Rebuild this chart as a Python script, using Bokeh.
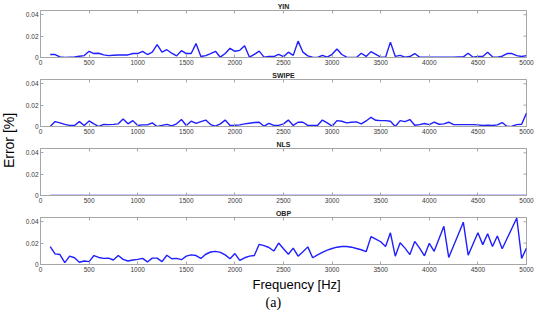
from bokeh.plotting import figure
from bokeh.layouts import row, column
from bokeh.models import Range1d, FixedTicker, LinearAxis, Title, Label
from bokeh.embed import file_html
from bokeh.resources import INLINE
import math

FREQ = [100, 150, 200, 250, 300, 350, 400, 450, 500, 550,
        600, 650, 700, 750, 800, 850, 900, 950, 1000, 1050,
        1100, 1150, 1200, 1250, 1300, 1350, 1400, 1450, 1500, 1550,
        1600, 1650, 1700, 1750, 1800, 1850, 1900, 1950, 2000, 2050,
        2100, 2150, 2200, 2250, 2300, 2350, 2400, 2450, 2500, 2550,
        2600, 2650, 2700, 2750, 2800, 2850, 2900, 2950, 3000, 3050,
        3100, 3150, 3200, 3250, 3300, 3350, 3400, 3450, 3500, 3550,
        3600, 3650, 3700, 3750, 3800, 3850, 3900, 3950, 4000, 4050,
        4100, 4150, 4200, 4250, 4300, 4350, 4400, 4450, 4500, 4550,
        4600, 4650, 4700, 4750, 4800, 4850, 4900, 4950, 5000]

YIN = [0.0028, 0.0028, 0.0006, 0.0000, 0.0003, 0.0006, 0.0012, 0.0018, 0.0058, 0.0037,
       0.0040, 0.0025, 0.0018, 0.0021, 0.0024, 0.0024, 0.0024, 0.0037, 0.0037, 0.0058,
       0.0028, 0.0050, 0.0120, 0.0050, 0.0073, 0.0040, 0.0015, 0.0064, 0.0037, 0.0037,
       0.0130, 0.0009, 0.0018, 0.0037, 0.0058, 0.0003, 0.0037, 0.0086, 0.0058, 0.0067,
       0.0110, 0.0003, 0.0030, 0.0060, 0.0003, 0.0009, 0.0009, 0.0030, 0.0008, 0.0050,
       0.0020, 0.0153, 0.0050, 0.0015, 0.0003, 0.0000, 0.0020, 0.0003, 0.0030, 0.0080,
       0.0028, 0.0003, 0.0000, 0.0000, 0.0040, 0.0010, 0.0055, 0.0030, 0.0003, 0.0003,
       0.0144, 0.0010, 0.0020, 0.0003, 0.0009, 0.0037, 0.0003, 0.0003, 0.0003, 0.0003,
       0.0003, 0.0003, 0.0003, 0.0003, 0.0006, 0.0006, 0.0040, 0.0003, 0.0009, 0.0009,
       0.0050, 0.0006, 0.0003, 0.0012, 0.0037, 0.0037, 0.0018, 0.0009, 0.0018]

SWIPE = [0.0000, 0.0046, 0.0034, 0.0020, 0.0010, 0.0010, 0.0046, 0.0010, 0.0052, 0.0025,
         0.0000, 0.0020, 0.0018, 0.0020, 0.0025, 0.0070, 0.0025, 0.0055, 0.0010, 0.0015,
         0.0015, 0.0034, 0.0000, 0.0010, 0.0020, 0.0006, 0.0025, 0.0065, 0.0010, 0.0050,
         0.0030, 0.0046, 0.0060, 0.0018, 0.0003, 0.0025, 0.0060, 0.0010, 0.0012, 0.0015,
         0.0025, 0.0031, 0.0037, 0.0040, 0.0003, 0.0030, 0.0010, 0.0010, 0.0025, 0.0060,
         0.0010, 0.0040, 0.0040, 0.0010, 0.0010, 0.0010, 0.0060, 0.0034, 0.0003, 0.0055,
         0.0049, 0.0034, 0.0040, 0.0043, 0.0025, 0.0052, 0.0086, 0.0058, 0.0055, 0.0055,
         0.0049, 0.0000, 0.0055, 0.0046, 0.0065, 0.0012, 0.0018, 0.0028, 0.0018, 0.0040,
         0.0021, 0.0025, 0.0040, 0.0018, 0.0018, 0.0018, 0.0018, 0.0018, 0.0015, 0.0010,
         0.0012, 0.0010, 0.0015, 0.0037, 0.0000, 0.0003, 0.0018, 0.0021, 0.0126]

NLS = [0.0] * 99

OBP = [0.0168, 0.0099, 0.0093, 0.0018, 0.0078, 0.0063, 0.0021, 0.0033, 0.0027, 0.0084,
       0.0066, 0.0057, 0.0060, 0.0042, 0.0084, 0.0048, 0.0033, 0.0042, 0.0048, 0.0057,
       0.0024, 0.0060, 0.0060, 0.0027, 0.0087, 0.0054, 0.0057, 0.0045, 0.0078, 0.0090,
       0.0084, 0.0057, 0.0096, 0.0117, 0.0123, 0.0114, 0.0090, 0.0054, 0.0102, 0.0039,
       0.0063, 0.0078, 0.0084, 0.0189, 0.0177, 0.0159, 0.0126, 0.0201, 0.0147, 0.0096,
       0.0153, 0.0078, 0.0120, 0.0165, 0.0063, 0.0090, 0.0114, 0.0135, 0.0150, 0.0162,
       0.0168, 0.0168, 0.0162, 0.0150, 0.0138, 0.0120, 0.0261, 0.0237, 0.0213, 0.0168,
       0.0297, 0.0078, 0.0204, 0.0153, 0.0093, 0.0216, 0.0153, 0.0081, 0.0198, 0.0123,
       0.0240, 0.0357, 0.0066, 0.0176, 0.0286, 0.0396, 0.0087, 0.0192, 0.0297, 0.0186,
       0.0288, 0.0168, 0.0267, 0.0147, 0.0243, 0.0339, 0.0435, 0.0057, 0.0153]

TITLES = ["YIN", "SWIPE", "NLS", "OBP"]
SERIES = [YIN, SWIPE, NLS, OBP]

X_TICKS = [0, 500, 1000, 1500, 2000, 2500, 3000, 3500, 4000, 4500, 5000]
X_TICK_LABELS = ["0", "500", "1000", "1500", "2000", "2500", "3000", "3500", "4000", "4500", "5000"]
Y_TICKS = [0, 0.02, 0.04]
Y_TICK_LABELS = ["0", "0.02", "0.04"]
X_LABEL = "Frequency [Hz]"
Y_LABEL = "Error [%]"
CAPTION = "(a)"

FONT = "Liberation Sans"
AXIS_GRAY = "#a6a6a6"
TICK_TEXT = "#3a3a3a"
LINE_BLUE = "#1e1eff"

LAB_W = 22
PANEL_W = 534 - LAB_W
PANEL_H = 69
LAST_H = 312 - 3 * PANEL_H


def style_axis(ax, ticks, labels, show_labels=True):
    ax.ticker = FixedTicker(ticks=ticks)
    ax.major_label_overrides = {t: (l if show_labels else "") for t, l in zip(ticks, labels)}
    ax.major_tick_in = 3
    ax.major_tick_out = 0
    ax.minor_tick_line_color = None
    ax.axis_line_color = AXIS_GRAY
    ax.major_tick_line_color = AXIS_GRAY
    ax.major_label_text_font = FONT
    ax.major_label_text_color = TICK_TEXT
    ax.major_label_text_font_size = "6.5px" if show_labels else "0px"
    ax.major_label_standoff = 2 if show_labels else 0


def make_panel(title, values, height, last):
    p = figure(width=PANEL_W, height=height,
               x_range=Range1d(0, 5000), y_range=Range1d(0, 0.044),
               output_backend="svg", toolbar_location=None,
               min_border_left=0, min_border_right=8,
               min_border_top=9, min_border_bottom=48 if last else 12)
    p.title.text = title
    p.title.align = "center"
    p.title.text_font = FONT
    p.title.text_font_size = "7px"
    p.title.text_font_style = "bold"
    p.title.text_color = "#222222"
    p.title.standoff = 1
    p.xgrid.visible = False
    p.ygrid.visible = False
    p.outline_line_color = AXIS_GRAY
    p.background_fill_color = "white"
    p.border_fill_color = "white"

    style_axis(p.xaxis[0], X_TICKS, X_TICK_LABELS)
    style_axis(p.yaxis[0], Y_TICKS, Y_TICK_LABELS)

    top = LinearAxis()
    style_axis(top, X_TICKS, X_TICK_LABELS, show_labels=False)
    top.axis_line_color = None
    p.add_layout(top, "above")

    # inward tick marks on the right edge of the box, at the y tick values
    p.ray(x=[p.x_range.end] * len(Y_TICKS), y=Y_TICKS, length=3, length_units="screen",
          angle=math.pi, line_color=AXIS_GRAY, line_width=1)

    p.line(FREQ, values, line_color=LINE_BLUE, line_width=1.4)

    if last:
        p.add_layout(Title(text=X_LABEL, align="left", offset=212,
                           text_font=FONT, text_font_size="13px",
                           text_font_style="normal", text_color="black",
                           standoff=0), "below")
        p.add_layout(Title(text=CAPTION, align="left", offset=225,
                           text_font="Liberation Serif", text_font_size="14px",
                           text_font_style="normal", text_color="black",
                           standoff=3), "below")
    return p


panels = []
for i, (t, s) in enumerate(zip(TITLES, SERIES)):
    last = i == len(TITLES) - 1
    panels.append(make_panel(t, s, LAST_H if last else PANEL_H, last))

lab = figure(width=LAB_W, height=312, x_range=Range1d(0, LAB_W), y_range=Range1d(312, 0),
             output_backend="svg", toolbar_location=None,
             min_border=0, min_border_left=0, min_border_right=0,
             min_border_top=0, min_border_bottom=0)
lab.axis.visible = False
lab.grid.visible = False
lab.outline_line_color = None
lab.add_layout(Label(x=8, y=140, text=Y_LABEL, angle=math.pi / 2,
                     text_align="center", text_baseline="middle",
                     text_font=FONT, text_font_size="14px", text_color="black"))

layout = row(lab, column(*panels, spacing=0), spacing=0)

open("out.html", "w").write(file_html(layout, INLINE))
